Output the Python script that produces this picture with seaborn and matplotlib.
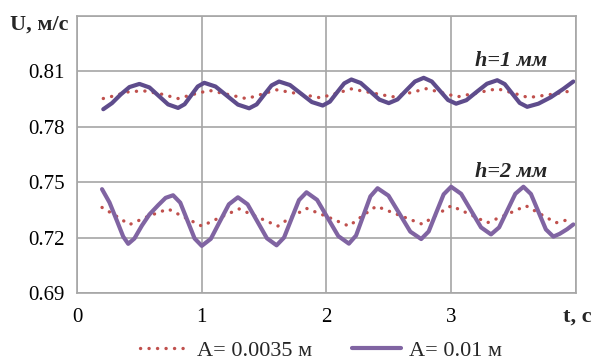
import matplotlib
matplotlib.use("Agg")
import matplotlib.pyplot as plt
import seaborn as sns
import pandas as pd
from matplotlib.lines import Line2D

# ---- data ----
# h = 1 mm, A = 0.01 m (solid)
t_h1_a01 = [0.21, 0.28, 0.35, 0.42, 0.50, 0.58, 0.655, 0.73, 0.81, 0.8625, 0.915, 0.9675,
            1.02, 1.11, 1.20, 1.29, 1.38, 1.44, 1.50, 1.56, 1.62, 1.7075, 1.795, 1.8825,
            1.97, 2.0275, 2.085, 2.1425, 2.20, 2.275, 2.35, 2.425, 2.50, 2.57, 2.64, 2.71,
            2.78, 2.845, 2.91, 2.975, 3.04, 3.1225, 3.205, 3.2875, 3.37, 3.43, 3.49, 3.55,
            3.61, 3.70, 3.80, 3.90, 3.98]
u_h1_a01 = [0.7895, 0.7928, 0.7975, 0.8015, 0.8032, 0.8013, 0.7967, 0.7921, 0.7902, 0.7922, 0.7970, 0.8018,
            0.8038, 0.8018, 0.7969, 0.7920, 0.7900, 0.7921, 0.7973, 0.8024, 0.8045, 0.8026, 0.7980, 0.7934,
            0.7915, 0.7936, 0.7986, 0.8035, 0.8056, 0.8037, 0.7992, 0.7947, 0.7928, 0.7948, 0.7997, 0.8045,
            0.8065, 0.8045, 0.7995, 0.7945, 0.7925, 0.7944, 0.7989, 0.8033, 0.8052, 0.8031, 0.7980, 0.7929,
            0.7908, 0.7925, 0.7960, 0.8005, 0.8045]

# h = 1 mm, A = 0.0035 m (dotted)
t_h1_a0035 = [0.21, 0.30, 0.40, 0.53, 0.67, 0.81, 0.93, 1.06, 1.21, 1.36, 1.48, 1.60, 1.78, 1.95,
              2.08, 2.20, 2.37, 2.53, 2.67, 2.80, 2.93, 3.05, 3.21, 3.37, 3.50, 3.62, 3.80, 3.97]
u_h1_a0035 = [0.7953, 0.7968, 0.7988, 0.7995, 0.7978, 0.7953, 0.7975, 0.7997, 0.7975, 0.7952, 0.7976,
              0.8000, 0.7978, 0.7957, 0.7981, 0.8005, 0.7983, 0.7962, 0.7984, 0.8006, 0.7984, 0.7962,
              0.7984, 0.8006, 0.7982, 0.7958, 0.7975, 0.7995]

# h = 2 mm, A = 0.01 m (solid)
t_h2_a01 = [0.20, 0.26, 0.32, 0.37, 0.41, 0.46, 0.52, 0.58, 0.65, 0.71, 0.77, 0.8275, 0.885, 0.9425,
            1.00, 1.0725, 1.145, 1.2175, 1.29, 1.3675, 1.445, 1.5225, 1.60, 1.66, 1.72, 1.78,
            1.84, 1.925, 2.01, 2.095, 2.18, 2.2375, 2.295, 2.3525, 2.41, 2.4975, 2.585, 2.6725,
            2.76, 2.82, 2.88, 2.94, 3.00, 3.08, 3.16, 3.24, 3.32, 3.385, 3.45, 3.515,
            3.58, 3.64, 3.70, 3.76, 3.82, 3.87, 3.93, 3.98]
u_h2_a01 = [0.7462, 0.7390, 0.7290, 0.7205, 0.7166, 0.7195, 0.7265, 0.7325, 0.7375, 0.7415, 0.7429,
            0.7389, 0.7292, 0.7195, 0.7155, 0.7193, 0.7287, 0.7380, 0.7418, 0.7380, 0.7288, 0.7196,
            0.7158, 0.7200, 0.7302, 0.7403, 0.7445, 0.7404, 0.7306, 0.7208, 0.7167, 0.7211, 0.7317,
            0.7423, 0.7467, 0.7427, 0.7330, 0.7232, 0.7192, 0.7233, 0.7334, 0.7434, 0.7475, 0.7437,
            0.7346, 0.7255, 0.7217, 0.7255, 0.7346, 0.7437, 0.7475, 0.7436, 0.7340, 0.7244, 0.7205,
            0.7220, 0.7245, 0.7271]

# h = 2 mm, A = 0.0035 m (dotted)
t_h2_a0035 = [0.20, 0.31, 0.42, 0.57, 0.73, 0.86, 1.00, 1.15, 1.30, 1.45, 1.61, 1.72, 1.84, 2.01,
              2.18, 2.29, 2.40, 2.58, 2.77, 2.88, 3.00, 3.15, 3.29, 3.45, 3.60, 3.72, 3.84, 3.97]
u_h2_a0035 = [0.7363, 0.7318, 0.7270, 0.7315, 0.7355, 0.7310, 0.7262, 0.7310, 0.7355, 0.7310, 0.7262,
              0.7312, 0.7358, 0.7312, 0.7262, 0.7318, 0.7370, 0.7322, 0.7272, 0.7322, 0.7372, 0.7326,
              0.7280, 0.7326, 0.7372, 0.7326, 0.7280, 0.7302]

y_ticks = [0.69, 0.72, 0.75, 0.78, 0.81, 0.84]
y_tick_labels = ["0.69", "0.72", "0.75", "0.78", "0.81", ""]
x_ticks = [0, 1, 2, 3, 4]
x_tick_labels = ["0", "1", "2", "3", ""]
legend_labels = ["A= 0.0035 м", "A= 0.01 м"]

# ---- style ----
sns.set_theme(style="white")
plt.rcParams["font.family"] = ["Liberation Serif", "DejaVu Serif"]

RED = "#c0504d"
PURPLE = "#8064a2"
DARK_PURPLE = "#5e4c8c"
GRID = "#a6a6a6"

fig = plt.figure(figsize=(5.93, 3.63), dpi=100)
ax = fig.add_axes([0.130, 0.193, 0.841, 0.763])

dot_kw = dict(color=RED, lw=2.4, linestyle=(0, (0.05, 2.5)), dash_capstyle="round")
sns.lineplot(x=t_h1_a0035, y=u_h1_a0035, ax=ax, sort=False, **dot_kw)
sns.lineplot(x=t_h2_a0035, y=u_h2_a0035, ax=ax, sort=False, **dot_kw)
sns.lineplot(x=t_h1_a01, y=u_h1_a01, ax=ax, sort=False, color=DARK_PURPLE, lw=3.0,
             solid_capstyle="round", solid_joinstyle="round")
sns.lineplot(x=t_h2_a01, y=u_h2_a01, ax=ax, sort=False, color=PURPLE, lw=3.0,
             solid_capstyle="round", solid_joinstyle="round")

ax.set_xlim(0, 4)
ax.set_ylim(0.69, 0.84)
ax.set_xticks(x_ticks)
ax.set_xticklabels(x_tick_labels)
ax.set_yticks(y_ticks)
ax.set_yticklabels(y_tick_labels)
ax.grid(True, color=GRID, lw=1.2)
for s in ax.spines.values():
    s.set_color(GRID)
    s.set_linewidth(1.2)
ax.tick_params(axis="both", which="major", direction="out", length=5, width=1.2,
               color=GRID, labelsize=15, labelcolor="black")
ax.tick_params(axis="x", pad=6)
ax.tick_params(axis="y", pad=4)
ax.set_xlabel("")
ax.set_ylabel("")

# axis titles
fig.text(10 / 593, 1 - 25 / 363, "U, м/с", fontsize=16, fontweight="bold",
         ha="left", va="center")
fig.text(592 / 593, 1 - 317 / 363, "t, с", fontsize=16, fontweight="bold",
         ha="right", va="center")
ax.text(3.77, 0.8155, "h=1 мм", fontsize=16, fontweight="bold", fontstyle="italic",
        ha="right", va="center")
ax.text(3.77, 0.7555, "h=2 мм", fontsize=16, fontweight="bold", fontstyle="italic",
        ha="right", va="center")

handles = [Line2D([], [], **dot_kw),
           Line2D([], [], color=PURPLE, lw=3.0)]
fig.legend(handles, legend_labels, loc="lower center", bbox_to_anchor=(0.541, -0.05),
           ncol=2, frameon=False, fontsize=16, handlelength=2.2, handletextpad=0.35,
           columnspacing=1.8)

fig.savefig("out.png", dpi=100)
